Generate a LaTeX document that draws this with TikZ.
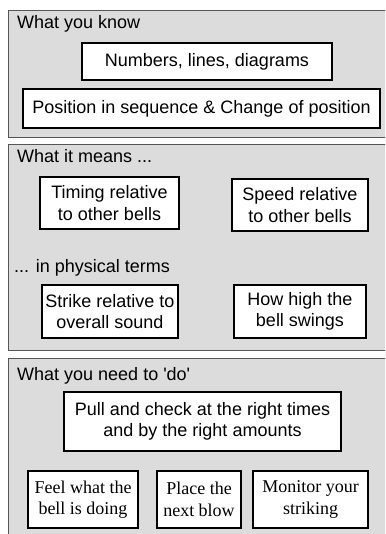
\documentclass[tikz,border=0pt]{standalone}
\usepackage{fontspec}
\setmainfont{Liberation Sans}
\newfontfamily\timesfont{Liberation Serif}
\definecolor{panelgray}{HTML}{DCDCDC}
\definecolor{paneledge}{HTML}{555555}
\begin{document}
\begin{tikzpicture}
[x = 1pt,
y = -1pt,
panel/.style = {fill=panelgray, draw=paneledge, line width=0.9pt},
heading/.style = {anchor=west, inner sep=0pt, font=\fontsize{18}{21.6}\selectfont},
item/.style = {draw=black, fill=white, line width=2pt, align=center, inner sep=0pt, font=\fontsize{18}{21.6}\selectfont},
serifitem/.style = {item, font=\timesfont\fontsize{18}{21.6}\selectfont}]
\clip (0,0) rectangle (385,534);
\fill[white] (0,0) rectangle (385,534);

% the three panels
\draw[panel] (8,10) rectangle (395,137);
\draw[panel] (8,144) rectangle (395,350);
\draw[panel] (8,358) rectangle (395,545);

% what you know
\node[heading] (know) at (17,24) {What you know};
\node[item, minimum width=250, minimum height=37] (numbers) at (207,61.5) {Numbers, lines, diagrams};
\node[item, minimum width=357, minimum height=39] (position) at (201.5,108.5) {Position in sequence \& Change of position};

% what it means
\node[heading] (means) at (17,156) {What it means ...};
\node[item, minimum width=139, minimum height=52] (timing) at (109.5,203) {Timing relative\\to other bells};
\node[item, minimum width=136, minimum height=52] (speed) at (300,205) {Speed relative\\to other bells};
\node[heading] (physical) at (14,268) {... in physical terms};
\node[item, minimum width=136, minimum height=53] (strike) at (110,311.5) {Strike relative to\\overall sound};
\node[item, minimum width=132, minimum height=53] (high) at (300,311.5) {How high the\\bell swings};

% what you need to do
\node[heading] (need) at (17,376) {What you need to \textquotesingle do\textquotesingle};
\node[item, minimum width=277, minimum height=59] (pull) at (202.5,421.5) {Pull and check at the right times\\and by the right amounts};
\node[serifitem, minimum width=110, minimum height=57] (feel) at (83,499.5) {Feel what the\\bell is doing};
\node[serifitem, minimum width=84, minimum height=57] (place) at (199,499.5) {Place the\\next blow};
\node[serifitem, minimum width=115, minimum height=57] (monitor) at (310.5,499.5) {Monitor your\\striking};
\end{tikzpicture}
\end{document}
